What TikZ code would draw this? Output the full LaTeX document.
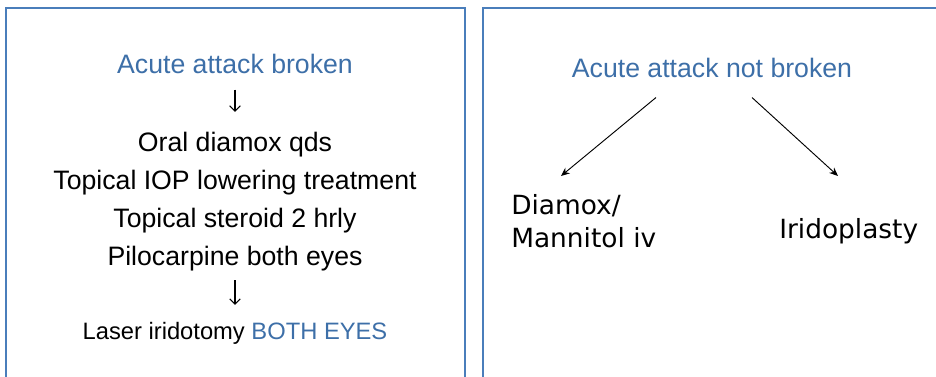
\documentclass[tikz,border=0pt]{standalone}
\usepackage{fontspec}
\setmainfont{Liberation Sans}
\newfontfamily\verdfont{DejaVu Sans}
\usepackage{xcolor}
\definecolor{slideblue}{HTML}{4A7EBB}
\definecolor{headblue}{HTML}{3D6FA8}
\usetikzlibrary{arrows.meta,positioning,calc}

\begin{document}
\begin{tikzpicture}[
  x=0.75pt, y=-0.75pt,
  panel/.style={draw=slideblue, line width=1.4pt},
  head/.style={font=\fontsize{20}{24}\selectfont, text=headblue, inner sep=0pt},
  item/.style={font=\fontsize{20}{24}\selectfont, inner sep=0pt},
  glyph/.style={-{Straight Barb[length=4pt,width=8pt]}, line width=0.8pt},
  branch/.style={-{Stealth[length=6.5pt,width=5.5pt]}, line width=0.7pt},
  opt/.style={font=\verdfont\fontsize{19.8}{24.75}\selectfont, inner sep=0pt, align=left},
]
\useasboundingbox (0,0) rectangle (936,377);

% ---------- the two panels, running off the bottom of the slide
\draw[panel] (6,400) |- (465,8) -- (465,400);
\draw[panel] (483,400) |- (950,8);

% ---------- left panel: attack broken
\node[head, anchor=base] (brk) at (235,74) {Acute attack broken};
\foreach \k/\t in {1/Oral diamox qds, 2/Topical IOP lowering treatment,
                   3/Topical steroid 2 hrly, 4/Pilocarpine both eyes} {
  \node[item, anchor=base] (l\k) at (235,114+38*\k) {\t};
}
\node[item, font=\fontsize{17.8}{22}\selectfont, anchor=base] (lsr) at (235,340)
  {Laser iridotomy \textcolor{headblue}{BOTH EYES}};
\draw[glyph, shorten <=11.25pt, shorten >=15.4pt] (brk) -- (l1);
\draw[glyph, shorten <=6.3pt, shorten >=13.2pt] (l4) -- (lsr);

% ---------- right panel: attack not broken
\node[head, anchor=base] (nbr) at (712,78) {Acute attack not broken};
\node[opt, anchor=base west] (dia) at (511,248) {Diamox/\\Mannitol iv};
\node[opt, anchor=base west] (iri) at (779,239) {Iridoplasty};
\draw[branch] ($(nbr.south)+(-56,19)$) -- ($(dia.base west)+(50,-72)$);
\draw[branch] ($(nbr.south)+(40,19)$) -- ($(iri.base west)+(59,-63)$);
\end{tikzpicture}
\end{document}
